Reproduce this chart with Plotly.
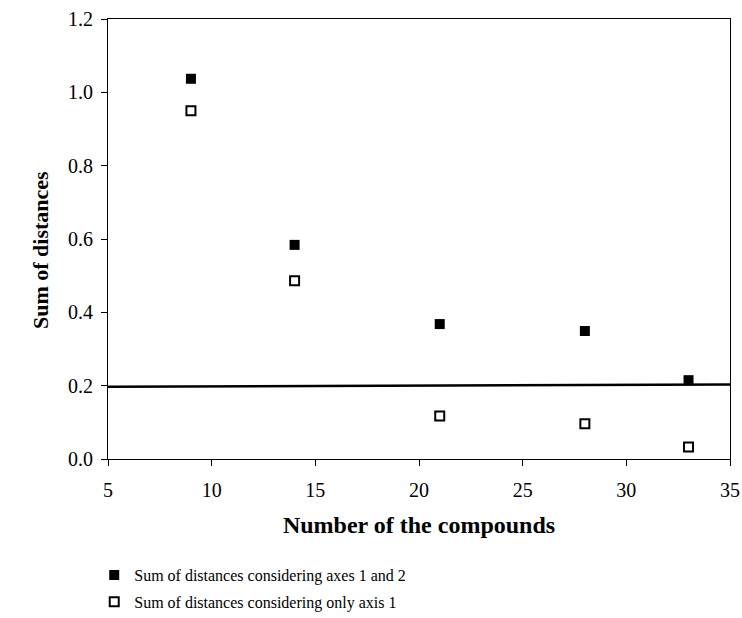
import plotly.graph_objects as go

compounds = [9, 14, 21, 28, 33]
sum_axes12 = [1.037, 0.584, 0.368, 0.349, 0.215]
sum_axis1 = [0.950, 0.486, 0.117, 0.096, 0.033]
thresh_x = [5, 35]
thresh_y = [0.197, 0.203]

font = "Liberation Serif"
fig = go.Figure()
fig.add_trace(go.Scatter(x=thresh_x, y=thresh_y, mode="lines",
                         line=dict(color="black", width=2.5), showlegend=False))
fig.add_trace(go.Scatter(x=compounds, y=sum_axes12, mode="markers",
                         name="Sum of distances considering axes 1 and 2",
                         legendgroup="a",
                         marker=dict(symbol="square", size=10, color="black",
                                     line=dict(color="black", width=0))))
fig.add_trace(go.Scatter(x=compounds, y=sum_axis1, mode="markers",
                         name="Sum of distances considering only axis 1",
                         legendgroup="b",
                         marker=dict(symbol="square-open", size=9, color="black",
                                     line=dict(color="black", width=2))))

fig.update_layout(
    width=742, height=618,
    margin=dict(l=108, r=12, t=19, b=159, autoexpand=False),
    plot_bgcolor="white", paper_bgcolor="white",
    font=dict(family=font, color="black", size=20),
    xaxis=dict(range=[5, 35], tickvals=[5, 10, 15, 20, 25, 30, 35],
               showgrid=False, zeroline=False, showline=True, linecolor="black",
               linewidth=1, mirror=True, ticks="outside", ticklen=6,
               tickcolor="black", ticklabelstandoff=7,
               title=dict(text="<b>Number of the compounds</b>",
                          font=dict(size=24, family=font), standoff=16)),
    yaxis=dict(range=[0, 1.2], tickvals=[0, 0.2, 0.4, 0.6, 0.8, 1.0, 1.2],
               tickformat=".1f",
               showgrid=False, zeroline=False, showline=True, linecolor="black",
               linewidth=1, mirror=True, ticks="outside", ticklen=6,
               tickcolor="black", ticklabelstandoff=4),
    legend=dict(x=0.127, xref="container", y=0.097, yref="container",
                xanchor="left", yanchor="top",
                font=dict(size=16, family=font), traceorder="grouped",
                tracegroupgap=3, itemwidth=30, bgcolor="rgba(0,0,0,0)"),
)
fig.add_annotation(text="<b>Sum of distances</b>", textangle=-90,
                   xref="paper", yref="paper", x=-68 / 622, y=0.475,
                   xanchor="center", yanchor="middle", showarrow=False,
                   font=dict(size=22, family=font, color="black"))
fig.write_html("out.html")
